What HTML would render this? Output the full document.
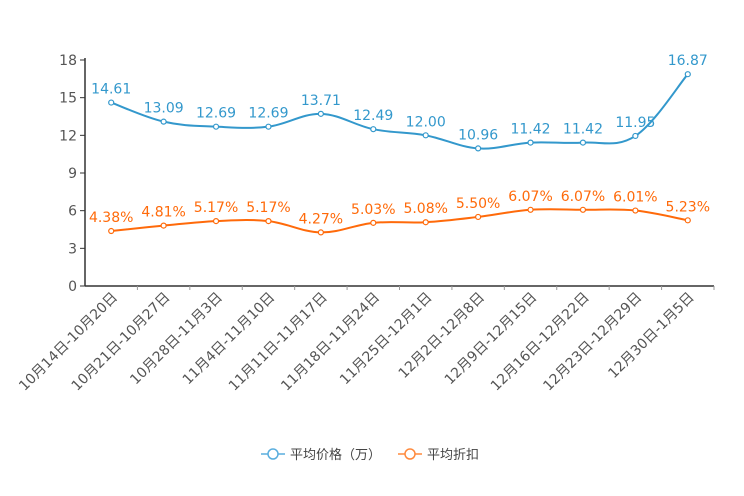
<!DOCTYPE html>
<html><head><meta charset="utf-8"><style>
body{margin:0;background:#fff;}
svg{display:block;font-family:"DejaVu Sans","Noto Sans CJK SC",sans-serif;}
</style></head><body>
<svg id="c" width="744" height="496"></svg>
<script>
const categories=["10月14日-10月20日","10月21日-10月27日","10月28日-11月3日","11月4日-11月10日","11月11日-11月17日","11月18日-11月24日","11月25日-12月1日","12月2日-12月8日","12月9日-12月15日","12月16日-12月22日","12月23日-12月29日","12月30日-1月5日"];
const priceValues=[14.61,13.09,12.69,12.69,13.71,12.49,12.00,10.96,11.42,11.42,11.95,16.87];
const discountValues=[4.38,4.81,5.17,5.17,4.27,5.03,5.08,5.50,6.07,6.07,6.01,5.23];
const yTicks=[0,3,6,9,12,15,18];
const NS="http://www.w3.org/2000/svg";
const svg=document.getElementById('c');
const L=85,R=714,T=60,B=286,yMax=18;
const band=(R-L)/categories.length;
const xs=i=>L+band*(i+0.5);
const ys=v=>B-(v/yMax)*(B-T);
function mk(t,a,p){const e=document.createElementNS(NS,t);for(const k in a)e.setAttribute(k,a[k]);(p||svg).appendChild(e);return e;}
let ax=mk('line',{x1:L,y1:T-2,x2:L,y2:B,stroke:'#333','stroke-width':1.5});


let bx=mk('line',{x1:L,y1:B,x2:R,y2:B,stroke:'#333','stroke-width':1.5});


yTicks.forEach(v=>{
  mk('line',{x1:L-5,y1:ys(v),x2:L,y2:ys(v),stroke:'#333'});
  let t=mk('text',{x:L-8,y:ys(v)+5,'text-anchor':'end','font-size':14,fill:'#555'});
  t.textContent=v;
  
  
});
categories.forEach((c,i)=>{
  const bxp=L+band*(i+1);
  mk('line',{x1:bxp,y1:B,x2:bxp,y2:B+4,stroke:'#999'});
  let t=mk('text',{x:0,y:0,'text-anchor':'end','font-size':14,fill:'#555',transform:`translate(${xs(i)+7},${B+12}) rotate(-45)`});
  t.textContent=c;
  
  
});
function smooth(pts){let d=`M${pts[0][0]},${pts[0][1]}`;
  for(let i=0;i<pts.length-1;i++){const p0=pts[i-1]||pts[i],p1=pts[i],p2=pts[i+1],p3=pts[i+2]||p2;const k=0.18;
    d+=` C${p1[0]+(p2[0]-p0[0])*k},${p1[1]+(p2[1]-p0[1])*k} ${p2[0]-(p3[0]-p1[0])*k},${p2[1]-(p3[1]-p1[1])*k} ${p2[0]},${p2[1]}`;}
  return d;}
function series(vals,color,name,fmt){
  const pts=vals.map((v,i)=>[xs(i),ys(v)]);
  let p=mk('path',{d:smooth(pts),fill:'none',stroke:color,'stroke-width':2});
  
  
  pts.forEach((q,i)=>{
    let c=mk('circle',{cx:q[0],cy:q[1],r:2.5,fill:'#fff',stroke:color,'stroke-width':1.2});
    
    
    let t=mk('text',{x:q[0],y:q[1]-9,'text-anchor':'middle','font-size':14,fill:color});
    t.textContent=fmt(vals[i]);
    
    
  });
}
series(priceValues,'#3398cc','price',v=>v.toFixed(2));
series(discountValues,'#ff6a0a','discount',v=>v.toFixed(2)+'%');
function leg(x,color,label,name){
  const g=mk('g',{});
  
  
  mk('line',{x1:x,y1:454,x2:x+24,y2:454,stroke:color,'stroke-width':1.5},g);
  mk('circle',{cx:x+12,cy:454,r:5,fill:'#fff',stroke:color,'stroke-width':1.5},g);
  let t=mk('text',{x:x+29,y:459,'font-size':13,fill:'#444'},g);t.textContent=label;
}
leg(261,'#5aaede','平均价格（万）','legend-price');
leg(398,'#ff8a3d','平均折扣','legend-discount');
</script>
</body></html>
